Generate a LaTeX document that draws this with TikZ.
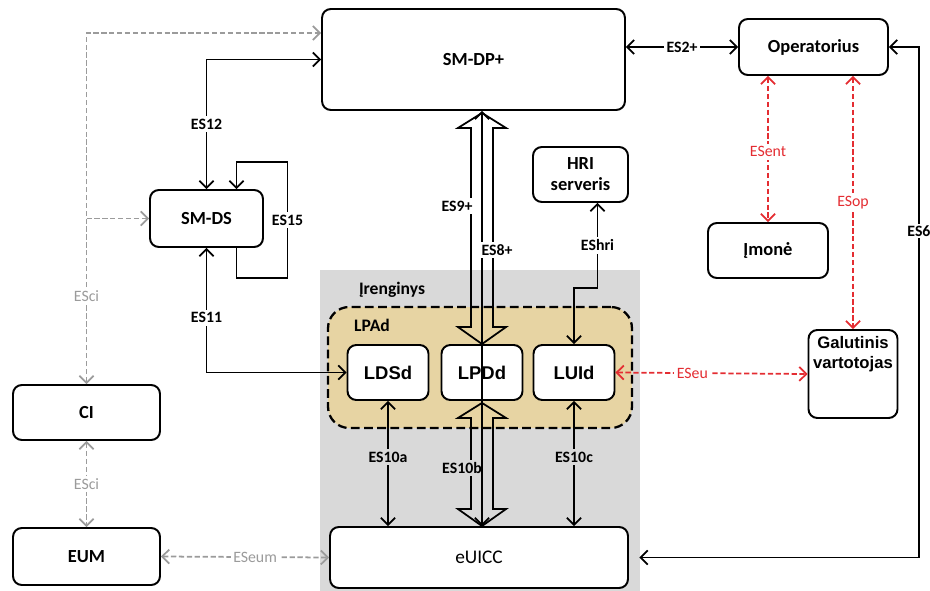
\documentclass[tikz,border=0pt]{standalone}
\usepackage{fontspec}
\setmainfont{Carlito}
\newfontfamily\arialfont{Liberation Sans}
\usetikzlibrary{arrows.meta,positioning,calc}
\definecolor{devgray}{RGB}{217,217,217}
\definecolor{lpadtan}{RGB}{231,212,163}
\definecolor{esred}{RGB}{228,45,50}
\definecolor{esgray}{RGB}{155,155,155}
\newcommand{\hollowarrow}[2]{%
  \draw[fat] ($(#1)+(0,2)$) -- ++(24,15) -- ++(-13,0) -- ($(#2)+(11,-17)$) -- ++(13,0)
    -- (#2) -- ++(-24,-17) -- ++(13,0) -- ($(#1)+(-11,17)$) -- ++(-13,0) -- cycle;}

\begin{document}
\begin{tikzpicture}[x=0.02cm, y=-0.02cm,
    >={Straight Barb[length=4pt,width=8pt]},
    box/.style={draw, line width=1.1pt, rounded corners=5pt, fill=white, align=center,
                inner sep=2pt, font=\fontsize{10.5}{12}\selectfont\bfseries},
    lpbox/.style={box, minimum width=1.62cm, minimum height=1.1cm,
                  font=\arialfont\fontsize{10.5}{12}\selectfont\bfseries},
    blk/.style={line width=1pt},
    fat/.style={draw, line width=1pt},
    gdash/.style={esgray, line width=1pt, dash pattern=on 3pt off 1.5pt},
    rdash/.style={esred, line width=1pt, dash pattern=on 3pt off 1.5pt},
    lbl/.style={fill=white, inner sep=1.5pt, font=\fontsize{9}{10}\selectfont\bfseries},
    glbl/.style={lbl, text=esgray, font=\fontsize{9}{10}\selectfont},
    rlbl/.style={lbl, text=esred, font=\fontsize{9}{10}\selectfont}]
  \useasboundingbox (0,0) rectangle (930,591);

  % device area
  \fill[devgray] (320,270) rectangle (640,591);
  \node[font=\fontsize{10}{12}\selectfont\bfseries] (devlbl) at (392,290) {Įrenginys};
  \node[draw, line width=1.3pt, dash pattern=on 5pt off 2.5pt, rounded corners=12pt, fill=lpadtan,
        minimum width=6.08cm, minimum height=2.42cm] (lpad) at (480,367.5) {};
  \node[font=\fontsize{10}{12}\selectfont\bfseries] (lpadlbl) at (372,325) {LPAd};

  % boxes
  \node[box, minimum width=6.06cm, minimum height=2.02cm] (smdp) at (473.5,59.5) {SM-DP+};
  \node[box, minimum width=2.98cm, minimum height=1.12cm] (oper) at (813.5,47) {Operatorius};
  \node[box, minimum width=1.9cm, minimum height=1.1cm] (hri) at (580.5,174.5) {HRI\\serveris};
  \node[box, minimum width=2.4cm, minimum height=1.1cm] (imone) at (768,250.5) {Įmonė};
  \node[box, minimum width=1.78cm, minimum height=1.76cm,
        label={[anchor=north, label distance=-3pt, align=center, inner sep=1pt,
                font=\arialfont\fontsize{9.5}{11.3}\selectfont\bfseries]90:Galutinis\\vartotojas}]
        (galut) at (853,374) {};
  \node[box, minimum width=2.26cm, minimum height=1.14cm] (smds) at (206.5,218.5) {SM-DS};
  \node[box, minimum width=2.94cm, minimum height=1.1cm] (ci) at (86.5,412.5) {CI};
  \node[box, minimum width=2.94cm, minimum height=1.14cm] (eum) at (86.5,556.5) {EUM};
  \node[box, minimum width=5.96cm, minimum height=1.22cm,
        font=\fontsize{11}{13}\selectfont] (euicc) at (479,557.5) {eUICC};
  \node[lpbox] (ldsd) at (388,372.5) {LDSd};
  \node[lpbox] (lpdd) at (482,372.5) {LPDd};
  \node[lpbox] (luid) at (574,372.5) {LUId};

  % gray links
  \coordinate (cicorner) at (86.5,33);
  \draw[gdash, <->] (ci.north) -- node[glbl, pos=0.25]{ESci} (cicorner) -- (cicorner -| smdp.west);
  \draw[gdash, ->] (cicorner |- smds.west) -- (smds.west);
  \draw[gdash, <->] (ci.south) -- node[glbl]{ESci} (eum.north);
  \draw[gdash, <->] (eum.east) -- node[glbl, pos=0.56]{ESeum} (euicc.west);

  % black links
  \draw[blk, <->] (smds.north) |- node[lbl, pos=0.25]{ES12} (smdp.west);
  \draw[blk, ->] ($(smds.south)+(30,0)$) -- ++(0,30) -- ++(51,0)
    -- node[lbl]{ES15} ++(0,-116) -- ++(-51,0) -- ($(smds.north)+(30,0)$);
  \draw[blk, <->] (smds.south) |- node[lbl, pos=0.28]{ES11} (ldsd.west);
  \draw[blk, <->] (smdp.east |- oper.west) -- node[lbl]{ES2+} (oper.west);
  \draw[blk, <->, shorten >=6pt] (oper.east) -- ++(30,0) |- node[lbl, inner sep=1pt, pos=0.18]{ES6} (euicc.east);
  \draw[blk, <->] ($(hri.south)+(17,0)$) -- node[lbl]{EShri} ++(0,85) -| (luid.north);
  \draw[blk, <->] (ldsd.south) -- node[lbl, fill=devgray, pos=0.45]{ES10a} (ldsd.south |- euicc.north);
  \draw[blk, <->] (luid.south) -- node[lbl, fill=devgray, pos=0.45]{ES10c} (luid.south |- euicc.north);

  % red links
  \draw[rdash, <->] (imone.north |- oper.south) -- node[rlbl, pos=0.52]{ESent} (imone.north);
  \draw[rdash, <->] (galut.north |- oper.south) -- node[rlbl]{ESop} (galut.north);
  \draw[rdash, <->] (luid.east) -- node[rlbl, pos=0.4]{ESeu} (galut.west);

  % LPDd links
  \coordinate (dptop) at (lpdd.north |- smdp.south);
  \coordinate (eutop) at (lpdd.south |- euicc.north);
  \hollowarrow{dptop}{lpdd.north}
  \hollowarrow{lpdd.south}{eutop}
  \node[lbl, fill=devgray] (es10b) at (462,468) {ES10b};
  \draw[blk, <->] (dptop) -- (eutop);
  \node[lbl] (es9) at (457,206) {ES9+};
  \node[lbl] (es8) at (497,250) {ES8+};
\end{tikzpicture}
\end{document}
